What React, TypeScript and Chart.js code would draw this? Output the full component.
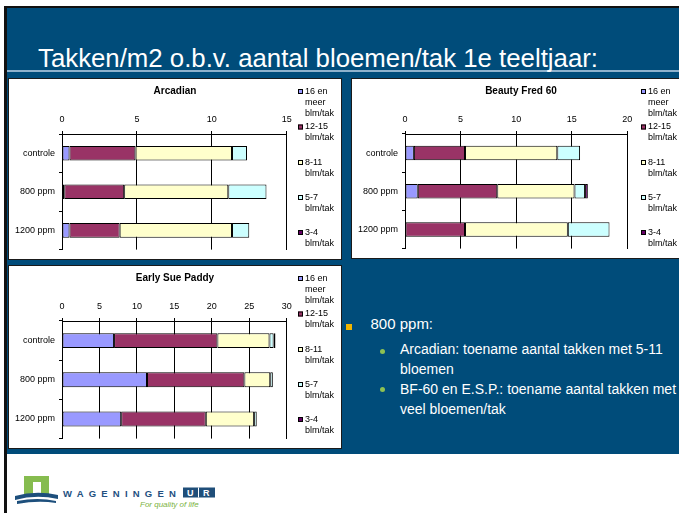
import React, { useEffect, useRef } from 'react';
import { Chart, registerables } from 'chart.js';

Chart.register(...registerables);

const FONT = "'Liberation Sans', Arial, sans-serif";

const categories = ['controle', '800 ppm', '1200 ppm'];
const seriesLabels = [
  ['16 en', 'meer', 'blm/tak'],
  ['12-15', 'blm/tak'],
  ['8-11', 'blm/tak'],
  ['5-7', 'blm/tak'],
  ['3-4', 'blm/tak'],
];
const seriesColors = ['#9999FF', '#993366', '#FFFFCC', '#CCFFFF', '#660066'];

// Arcadian
const arcadian16 = [0.5, 0.15, 0.5];
const arcadian12 = [4.4, 4.0, 3.35];
const arcadian8 = [6.45, 6.95, 7.5];
const arcadian5 = [1.0, 2.55, 1.15];
const arcadian3 = [0, 0, 0];

// Beauty Fred 60
const beauty16 = [0.8, 1.15, 0];
const beauty12 = [4.6, 7.15, 5.4];
const beauty8 = [8.3, 6.95, 9.25];
const beauty5 = [2.05, 0.95, 3.75];
const beauty3 = [0, 0.25, 0];

// Early Sue Paddy
const early16 = [6.95, 11.35, 7.9];
const early12 = [13.8, 13.0, 11.3];
const early8 = [6.95, 3.45, 6.45];
const early5 = [0.55, 0.35, 0.35];
const early3 = [0.25, 0, 0];

const axisMax = { arcadian: 15, beauty: 20, early: 30 };
const tickStep = 5;

const legendItemY = [12.5, 48, 83.5, 118.5, 153.5];

const sideLegend = {
  id: 'sideLegend',
  afterDraw(chart: any) {
    const ctx = chart.ctx as CanvasRenderingContext2D;
    const sx = 289;
    const tx = 296;
    ctx.save();
    ctx.font = `9px ${FONT}`;
    ctx.textBaseline = 'middle';
    ctx.textAlign = 'left';
    chart.data.datasets.forEach((ds: any, i: number) => {
      const y0 = legendItemY[i];
      ctx.fillStyle = ds.backgroundColor;
      ctx.fillRect(sx, y0 - 2.5, 5, 5);
      ctx.strokeStyle = '#000';
      ctx.lineWidth = 1;
      ctx.strokeRect(sx + 0.5, y0 - 2, 4, 4);
      ctx.fillStyle = '#000';
      seriesLabels[i].forEach((t, j) => ctx.fillText(t, tx, y0 + j * 11));
    });
    ctx.restore();
  },
};

function BarChart(props: {
  title: string;
  max: number;
  series: number[][];
  w: number;
  h: number;
  rightW: number;
  padB: number;
  style: React.CSSProperties;
}) {
  const ref = useRef<HTMLCanvasElement>(null);
  useEffect(() => {
    const { title, max, series, rightW, padB } = props;
    const chart = new Chart(ref.current as HTMLCanvasElement, {
      type: 'bar',
      data: {
        labels: categories,
        datasets: series.map((d, i) => ({
          label: seriesLabels[i].join(' '),
          data: d,
          backgroundColor: seriesColors[i],
          borderColor: '#000',
          borderWidth: 1,
          borderSkipped: false,
          categoryPercentage: 1,
          barPercentage: 0.38,
        })),
      },
      options: {
        indexAxis: 'y',
        animation: false,
        responsive: false,
        maintainAspectRatio: false,
        devicePixelRatio: 1,
        layout: { padding: { left: 0, right: 0, top: 0, bottom: padB } },
        plugins: {
          legend: { display: false },
          tooltip: { enabled: false },
          title: {
            display: true,
            text: title,
            color: '#000',
            font: { family: FONT, size: 10, weight: 'bold' },
            padding: { top: 6.5, bottom: 0 },
          },
        },
        scales: {
          x: {
            type: 'linear',
            position: 'top',
            stacked: true,
            min: 0,
            max,
            ticks: { stepSize: tickStep, color: '#000', font: { family: FONT, size: 9 }, padding: 6, maxRotation: 0 },
            grid: { color: '#000', lineWidth: 1, tickLength: 3, drawOnChartArea: true },
            border: { color: '#000', width: 1 },
            afterFit: (s: any) => {
              s.height = 36.5;
            },
          },
          y: {
            type: 'category',
            position: 'left',
            stacked: true,
            ticks: { color: '#000', font: { family: FONT, size: 9 }, padding: 4 },
            grid: { color: '#000', drawOnChartArea: false, tickLength: 3, offset: true },
            border: { color: '#000', width: 1 },
            afterFit: (s: any) => {
              s.width = 53;
            },
          },
          y2: {
            type: 'linear',
            position: 'right',
            display: true,
            grid: { display: false },
            ticks: { display: false },
            border: { color: '#000', width: 1 },
            afterFit: (s: any) => {
              s.width = rightW;
            },
          },
        },
      } as any,
      plugins: [sideLegend],
    });
    return () => chart.destroy();
  }, []);
  return (
    <canvas
      ref={ref}
      width={props.w}
      height={props.h}
      style={{ position: 'absolute', width: props.w, height: props.h, ...props.style }}
    />
  );
}

function FitTitle() {
  const ref = useRef<HTMLSpanElement>(null);
  useEffect(() => {
    const el = ref.current;
    if (!el) return;
    const w = el.getBoundingClientRect().width;
    if (w > 0) el.style.transform = `scaleX(${560 / w})`;
  }, []);
  return (
    <span
      ref={ref}
      style={{
        position: 'absolute',
        left: 38,
        top: 42.5,
        fontFamily: "'Liberation Sans Narrow', 'Liberation Sans', Arial, sans-serif",
        fontSize: 26,
        lineHeight: '30px',
        color: '#fff',
        whiteSpace: 'nowrap',
        transformOrigin: '0 0',
        display: 'inline-block',
      }}
    >
      Takken/m2 o.b.v. aantal bloemen/tak 1e teeltjaar:
    </span>
  );
}

const boxStyle: React.CSSProperties = {
  position: 'absolute',
  background: '#fff',
  border: '1px solid #1a1a1a',
  boxSizing: 'border-box',
  overflow: 'hidden',
};

const textStyle: React.CSSProperties = {
  position: 'absolute',
  color: '#fff',
  fontFamily: FONT,
  whiteSpace: 'nowrap',
  lineHeight: '20px',
};

export default function App() {
  return (
    <div
      style={{
        position: 'absolute',
        left: 0,
        top: 0,
        width: 679,
        height: 513,
        overflow: 'hidden',
        background: '#fff',
      }}
    >
      {/* slide frame */}
      <div style={{ position: 'absolute', left: 4, top: 6, width: 700, height: 2, background: '#111' }} />
      <div style={{ position: 'absolute', left: 4, top: 6, width: 3, height: 520, background: '#111' }} />
      {/* blue panel */}
      <div style={{ position: 'absolute', left: 7, top: 8, width: 700, height: 446, background: '#004C7A' }} />
      {/* title underline */}
      <div style={{ position: 'absolute', left: 7, top: 70, width: 700, height: 2, background: '#8FB2CC' }} />
      <FitTitle />

      {/* chart boxes */}
      <div style={{ ...boxStyle, left: 8, top: 78, width: 334, height: 182 }}>
        <BarChart
          title="Arcadian"
          max={axisMax.arcadian}
          series={[arcadian16, arcadian12, arcadian8, arcadian5, arcadian3]}
          w={332}
          h={180}
          rightW={54.3}
          padB={4.3}
          style={{ left: 0, top: 0 }}
        />
      </div>
      <div style={{ ...boxStyle, left: 351, top: 78, width: 340, height: 181 }}>
        <BarChart
          title="Beauty Fred 60"
          max={axisMax.beauty}
          series={[beauty16, beauty12, beauty8, beauty5, beauty3]}
          w={338}
          h={179}
          rightW={62.7}
          padB={4.8}
          style={{ left: 0, top: 0 }}
        />
      </div>
      <div style={{ ...boxStyle, left: 8, top: 265, width: 334, height: 184 }}>
        <BarChart
          title="Early Sue Paddy"
          max={axisMax.early}
          series={[early16, early12, early8, early5, early3]}
          w={332}
          h={182}
          rightW={54.3}
          padB={6.7}
          style={{ left: 0, top: 0 }}
        />
      </div>

      {/* bullets */}
      <div style={{ position: 'absolute', left: 346, top: 324, width: 6, height: 6, background: '#F0B400' }} />
      <div style={{ ...textStyle, left: 370.5, top: 314, fontSize: 15 }}>800 ppm:</div>
      <div style={{ position: 'absolute', left: 380, top: 349, width: 5, height: 5, borderRadius: 3, background: '#8DC153' }} />
      <div style={{ ...textStyle, left: 400, top: 339.2, fontSize: 14 }}>Arcadian: toename aantal takken met 5-11</div>
      <div style={{ ...textStyle, left: 400, top: 358.5, fontSize: 14 }}>bloemen</div>
      <div style={{ position: 'absolute', left: 380, top: 387, width: 5, height: 5, borderRadius: 3, background: '#8DC153' }} />
      <div style={{ ...textStyle, left: 400, top: 379.2, fontSize: 14 }}>BF-60 en E.S.P.: toename aantal takken met</div>
      <div style={{ ...textStyle, left: 400, top: 398.5, fontSize: 14 }}>veel bloemen/tak</div>

      {/* logo */}
      <svg style={{ position: 'absolute', left: 0, top: 460 }} width={230} height={53}>
        <rect x={24} y={16} width={25} height={18} fill="#86BC4F" />
        <rect x={33} y={22} width={8} height={12} fill="#fff" />
        <path d="M15,36 Q36,30 58,35 L58,39 Q36,34 15,40 Z" fill="#1D4F7C" />
        <path d="M17,41 Q38,37 56,41 L56,43 Q38,40 17,44 Z" fill="#1D4F7C" />
        <text x={63} y={37} fontFamily={FONT} fontWeight="bold" fontSize={9.5} letterSpacing={5.2} fill="#24507F">
          WAGENINGEN
        </text>
        <rect x={183} y={27.5} width={32} height={10} fill="#1F4E79" />
        <line x1={198.5} y1={27.5} x2={198.5} y2={37.5} stroke="#fff" strokeWidth={1} />
        <text x={187} y={36} fontFamily={FONT} fontWeight="bold" fontSize={9} fill="#fff">U</text>
        <text x={203} y={36} fontFamily={FONT} fontWeight="bold" fontSize={9} fill="#fff">R</text>
        <text x={140} y={47} fontFamily={FONT} fontStyle="italic" fontSize={8} fill="#7CB342">
          For quality of life
        </text>
      </svg>
    </div>
  );
}
